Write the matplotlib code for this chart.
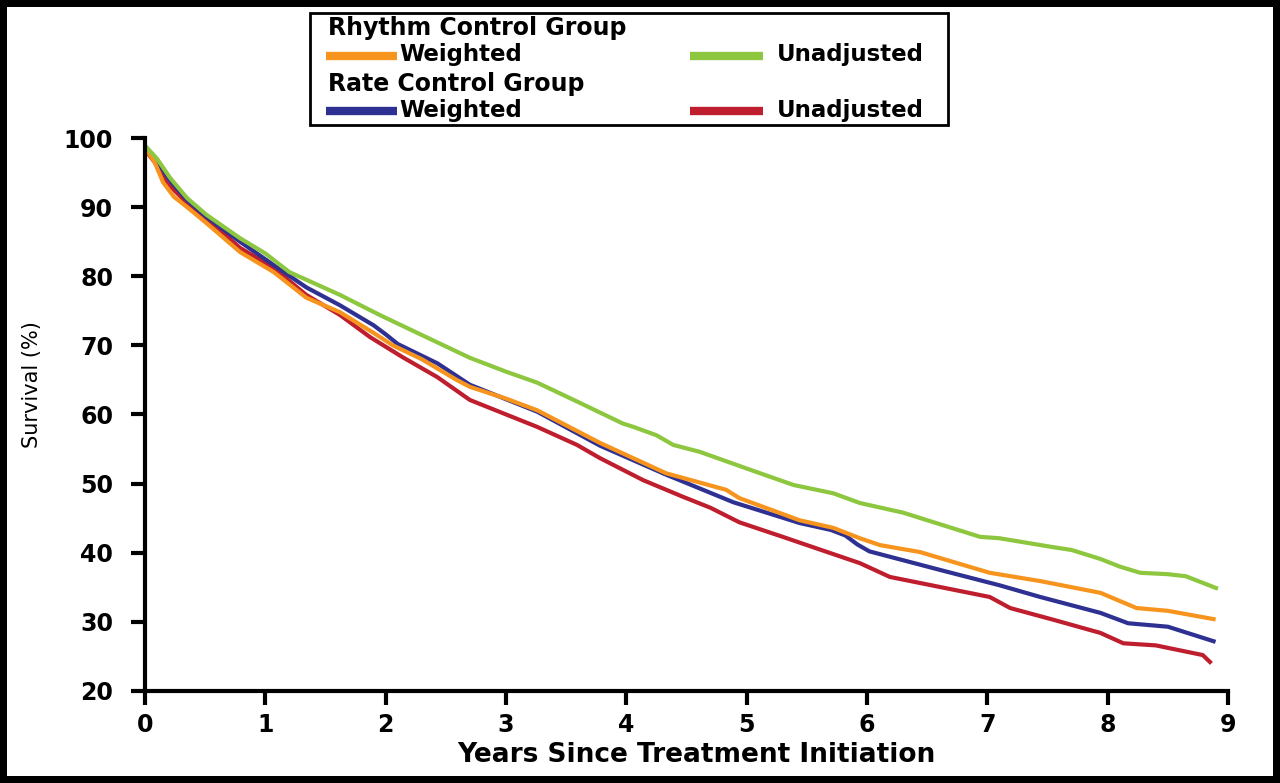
import matplotlib.pyplot as plt
from matplotlib.lines import Line2D
from matplotlib.patches import Rectangle

# Rhythm control group, weighted (orange)
rhythm_w_t = [0, 0.08, 0.15, 0.24, 0.35, 0.51, 0.79, 1.07, 1.34, 1.62, 1.9, 2.06, 2.3, 2.59,
              2.7, 3.0, 3.26, 3.78, 4.33, 4.83, 4.94, 5.44, 5.72, 5.94, 6.11, 6.44, 7.02,
              7.44, 7.94, 8.24, 8.5, 8.88]
rhythm_w_s = [98.6, 96.5, 93.6, 91.5, 90.0, 87.7, 83.5, 80.6, 76.9, 74.8, 71.8, 70.0, 68.0, 65.0,
              64.0, 62.3, 60.6, 55.9, 51.5, 49.1, 47.9, 44.7, 43.6, 42.1, 41.1, 40.1, 37.1,
              35.9, 34.2, 32.0, 31.6, 30.4]

# Rhythm control group, unadjusted (green)
rhythm_u_t = [0, 0.1, 0.21, 0.35, 0.51, 0.79, 1.0, 1.2, 1.62, 1.95, 2.3, 2.7, 3.0, 3.26, 3.6,
              3.97, 4.06, 4.25, 4.39, 4.61, 5.03, 5.39, 5.72, 5.94, 6.3, 6.94, 7.1, 7.55, 7.7,
              7.94, 8.1, 8.27, 8.5, 8.65, 8.9]
rhythm_u_s = [98.9, 97.0, 94.2, 91.3, 88.9, 85.5, 83.3, 80.6, 77.3, 74.4, 71.5, 68.2, 66.2, 64.6, 61.8,
              58.7, 58.2, 57.0, 55.6, 54.6, 52.0, 49.8, 48.6, 47.2, 45.8, 42.3, 42.1, 40.8, 40.4,
              39.1, 38.0, 37.1, 36.9, 36.6, 34.9]

# Rate control group, weighted (blue)
rate_w_t = [0, 0.1, 0.2, 0.35, 0.51, 0.79, 1.07, 1.34, 1.62, 1.9, 2.0, 2.1, 2.43, 2.7, 3.26, 3.78,
            4.33, 4.89, 5.44, 5.7, 5.82, 5.92, 6.02, 6.61, 7.1, 7.44, 7.94, 8.17, 8.5, 8.88]
rate_w_s = [98.8, 96.8, 94.0, 91.0, 88.6, 85.0, 81.6, 78.4, 75.8, 72.9, 71.6, 70.2, 67.4, 64.3, 60.4, 55.5,
            51.3, 47.3, 44.3, 43.3, 42.5, 41.2, 40.2, 37.5, 35.3, 33.6, 31.3, 29.8, 29.3, 27.2]

# Rate control group, unadjusted (red)
rate_u_t = [0, 0.08, 0.18, 0.35, 0.51, 0.79, 1.07, 1.34, 1.62, 1.87, 2.14, 2.43, 2.7, 3.26, 3.59,
            3.78, 4.14, 4.47, 4.7, 4.94, 5.3, 5.67, 5.94, 6.19, 7.02, 7.19, 7.55, 7.94, 8.13,
            8.4, 8.79, 8.85]
rate_u_s = [98.3, 96.5, 93.5, 90.6, 88.4, 84.1, 81.2, 77.3, 74.4, 71.2, 68.3, 65.4, 62.1, 58.2, 55.6,
            53.7, 50.5, 48.1, 46.5, 44.4, 42.3, 40.1, 38.5, 36.5, 33.6, 32.0, 30.3, 28.4, 26.9,
            26.6, 25.2, 24.2]

orange = '#F7941D'
green = '#8DC63F'
blue = '#2E3192'
red = '#BE1E2D'

W, H = 1280, 783
fig = plt.figure(figsize=(W / 100, H / 100), dpi=100)
fig.patch.set_facecolor('white')
fig.patch.set_edgecolor('black')
fig.patch.set_linewidth(10)

ax = fig.add_axes([145 / W, 1 - 691 / H, (1228 - 145) / W, (691 - 138) / H])
ax.plot(rate_u_t, rate_u_s, color=red, lw=3)
ax.plot(rate_w_t, rate_w_s, color=blue, lw=3)
ax.plot(rhythm_w_t, rhythm_w_s, color=orange, lw=3)
ax.plot(rhythm_u_t, rhythm_u_s, color=green, lw=3)

ax.set_xlim(0, 9)
ax.set_ylim(20, 100)
ax.set_xticks(range(0, 10))
ax.set_yticks(range(20, 101, 10))
for s in ['top', 'right']:
    ax.spines[s].set_visible(False)
for s in ['left', 'bottom']:
    ax.spines[s].set_linewidth(3)
ax.tick_params(width=3, length=10, labelsize=17)
ax.tick_params(axis='y', pad=13)
ax.tick_params(axis='x', pad=6)
for lab in ax.get_xticklabels() + ax.get_yticklabels():
    lab.set_fontweight('bold')

ax.set_xlabel('Years Since Treatment Initiation', fontsize=19, fontweight='bold')
ax.xaxis.set_label_coords(0.509, -0.093)
ax.set_ylabel('Survival (%)', fontsize=15)
ax.yaxis.set_label_coords(-0.095, 0.555)

# legend box drawn in figure pixels
def fx(x):
    return x / W

def fy(y):
    return 1 - y / H

fig.patches.append(Rectangle((fx(310), fy(125)), fx(948) - fx(310), fy(13) - fy(125),
                             transform=fig.transFigure, fill=False, edgecolor='black', lw=2))
hkw = dict(fontsize=17, fontweight='bold', va='center', ha='left')
tkw = dict(fontsize=16.5, fontweight='bold', va='center', ha='left')
fig.text(fx(328), fy(28), 'Rhythm Control Group', **hkw)
fig.text(fx(328), fy(84), 'Rate Control Group', **hkw)
rows = [(56, orange, green), (111, blue, red)]
for y, c1, c2 in rows:
    fig.lines.append(Line2D([fx(326), fx(397)], [fy(y), fy(y)], transform=fig.transFigure,
                            color=c1, lw=6, solid_capstyle='butt'))
    fig.text(fx(399), fy(y - 1), 'Weighted', **tkw)
    fig.lines.append(Line2D([fx(690), fx(763)], [fy(y), fy(y)], transform=fig.transFigure,
                            color=c2, lw=6, solid_capstyle='butt'))
    fig.text(fx(777), fy(y - 1), 'Unadjusted', **tkw)

fig.savefig('out.png', dpi=100, edgecolor='black')
